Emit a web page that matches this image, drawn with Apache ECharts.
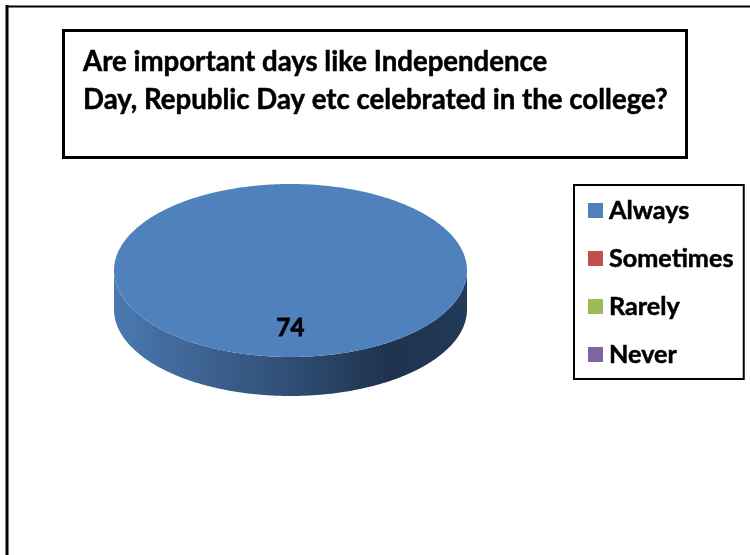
<!DOCTYPE html>
<html>
<head>
<meta charset="utf-8">
<style>html,body{margin:0;padding:0;background:#fff}#c{width:750px;height:555px}</style>
<script src="https://cdn.jsdelivr.net/npm/echarts@6/dist/echarts.min.js"></script>
</head>
<body>
<div id="c"></div>
<script>
const categories = ['Always', 'Sometimes', 'Rarely', 'Never'];
const values = [74, 0, 0, 0];
const colors = ['#4f81bd', '#c0504d', '#9bbb59', '#8064a2'];
const titleText = 'Are important days like Independence\nDay, Republic Day etc celebrated in the college?';
const FONT = 'Lato, "Open Sans", sans-serif';

const CX = 290.5, CY = 270.5, RX = 176.5, RY = 86.5, DEPTH = 39;
const total = values.reduce((a, b) => a + b, 0);

function pt(a, dy) {
  return [CX + RX * Math.sin(a), CY - RY * Math.cos(a) + (dy || 0)];
}
function arc(a0, a1) {
  const n = Math.max(2, Math.ceil((a1 - a0) / 0.01));
  const out = [];
  for (let i = 0; i <= n; i++) out.push(a0 + (a1 - a0) * i / n);
  return out;
}
function sliceRenderer(index) {
  return function (params, api) {
    const v = api.value(0);
    if (!v) return null;
    const before = values.slice(0, index).reduce((a, b) => a + b, 0);
    const a0 = before / total * 2 * Math.PI;
    const a1 = (before + v) / total * 2 * Math.PI;
    const full = a1 - a0 >= 2 * Math.PI - 1e-6;
    const topPts = arc(a0, a1).map(a => pt(a));
    if (!full) topPts.push([CX, CY]);
    const lo = Math.max(a0, Math.PI / 2), hi = Math.min(a1, 3 * Math.PI / 2);
    const children = [];
    if (hi > lo) {
      const front = arc(lo, hi);
      const sidePts = front.map(a => pt(a)).concat(front.slice().reverse().map(a => pt(a, DEPTH)));
      children.push({
        type: 'polygon',
        shape: { points: sidePts },
        style: {
          fill: {
            type: 'linear', x: 0, y: 0, x2: 1, y2: 0,
            colorStops: [
              { offset: 0, color: '#4a79b0' },
              { offset: 0.18, color: '#41699a' },
              { offset: 0.5, color: '#2f4e75' },
              { offset: 0.78, color: '#1f324e' },
              { offset: 1, color: '#233a59' }
            ]
          }
        }
      });
    }
    children.push({ type: 'polygon', shape: { points: topPts }, style: { fill: colors[index] } });
    const mid = (a0 + a1) / 2;
    children.push({
      type: 'text',
      style: {
        x: CX + 0.67 * RX * Math.sin(mid),
        y: CY - 0.67 * RY * Math.cos(mid),
        text: String(v),
        fill: '#000',
        fontFamily: FONT,
        fontWeight: 'bold',
        fontSize: 24,
        stroke: '#000',
        lineWidth: 0.8,
        align: 'center',
        verticalAlign: 'middle'
      }
    });
    return { type: 'group', children };
  };
}

const chart = echarts.init(document.getElementById('c'), null, { renderer: 'canvas' });
chart.setOption({
  animation: false,
  backgroundColor: '#fff',
  title: {
    text: titleText,
    left: 63,
    top: 30,
    padding: [13, 19, 39, 20],
    borderColor: '#000',
    borderWidth: 3,
    textStyle: {
      fontFamily: FONT, fontWeight: 'bold', fontSize: 27.6, lineHeight: 38, color: '#000',
      textBorderColor: '#000', textBorderWidth: 0.5
    }
  },
  legend: {
    orient: 'vertical',
    left: 574,
    top: 185,
    padding: [12, 10, 11, 14],
    itemWidth: 15,
    itemHeight: 15,
    itemGap: 21,
    borderColor: '#000',
    borderWidth: 2,
    icon: 'rect',
    data: categories,
    textStyle: {
      fontFamily: FONT, fontWeight: 'bold', fontSize: 25.2, lineHeight: 27, color: '#000', padding: [0, 0, 0, 1],
      textBorderColor: '#000', textBorderWidth: 0.5
    }
  },
  graphic: [{
    type: 'line',
    silent: true,
    z: -1,
    shape: { x1: 7, y1: 5, x2: 7, y2: 560 },
    style: { stroke: '#000', lineWidth: 3 }
  }, {
    type: 'line',
    silent: true,
    z: -1,
    shape: { x1: 6, y1: 6.5, x2: 750, y2: 6.5 },
    style: { stroke: '#000', lineWidth: 2 }
  }],
  series: categories.map((name, i) => ({
    type: 'custom',
    name,
    coordinateSystem: 'none',
    itemStyle: { color: colors[i] },
    data: [[values[i]]],
    renderItem: sliceRenderer(i)
  }))
});
</script>
</body>
</html>
